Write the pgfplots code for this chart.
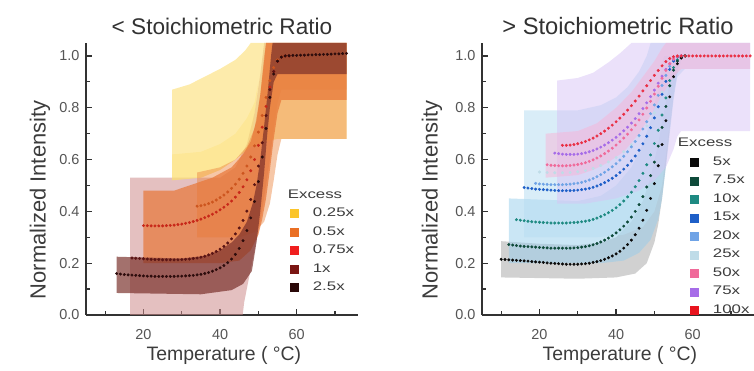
\documentclass[border=0pt]{standalone}
\usepackage{fontspec}
\setmainfont{Liberation Sans}
\usepackage{pgfplots}
\pgfplotsset{compat=1.18}
\definecolor{axcol}{RGB}{50,50,50}
\definecolor{tickcol}{RGB}{85,85,85}
\definecolor{labcol}{RGB}{60,60,60}
% left series
\definecolor{cA}{RGB}{251,197,43}
\definecolor{cB}{RGB}{234,111,36}
\definecolor{cC}{RGB}{240,31,31}
\definecolor{cD}{RGB}{122,21,18}
\definecolor{cE}{RGB}{42,8,8}
\definecolor{dB}{RGB}{205,85,30}
\definecolor{dC}{RGB}{200,40,25}
\definecolor{dD}{RGB}{90,20,20}
\definecolor{dE}{RGB}{45,12,12}
\definecolor{bPink}{RGB}{205,140,140}
\definecolor{bYel}{RGB}{252,222,115}
\definecolor{bOr}{RGB}{235,130,60}
\definecolor{bOr2}{RGB}{232,118,55}
\definecolor{bDark}{RGB}{120,45,40}
% right series
\definecolor{r1}{RGB}{10,10,10}
\definecolor{r2}{RGB}{14,74,58}
\definecolor{r3}{RGB}{30,138,130}
\definecolor{r4}{RGB}{30,95,200}
\definecolor{r5}{RGB}{111,163,230}
\definecolor{r6}{RGB}{191,220,232}
\definecolor{r7}{RGB}{240,106,154}
\definecolor{r8}{RGB}{166,108,232}
\definecolor{r9}{RGB}{232,20,30}
\definecolor{bGray}{RGB}{190,190,190}
\definecolor{bBlue1}{RGB}{150,205,235}
\definecolor{bBlue2}{RGB}{185,222,242}
\definecolor{bLav}{RGB}{215,195,245}
\definecolor{bPk}{RGB}{248,180,215}
\newcommand{\lt}[1]{\scalebox{1.35}[1]{#1}}
\pgfplotsset{
  base/.style={
    scale only axis, width=272bp, height=272bp,
    xmin=5, xmax=76, ymin=0, ymax=1.05,
    axis x line*=bottom, axis y line*=left,
    axis line style={line width=1.3bp, color=axcol, -},
    xtick={20,40,60}, minor xtick={10,30,50,70},
    ytick={0,0.2,0.4,0.6,0.8,1.0}, minor ytick={0.1,0.3,0.5,0.7,0.9},
    tick align=inside, major tick length=6bp, minor tick length=4bp,
    tick style={line width=1.2bp, color=axcol},
    /pgf/number format/assume math mode=true,
    tick label style={font=\fontsize{14.5}{16}\selectfont, text=tickcol},
    xticklabel style={yshift=-11bp},
    yticklabel style={xshift=-3bp, /pgf/number format/.cd, fixed, fixed zerofill, precision=1},
    title style={at={(axis description cs:0.5,1)}, anchor=base, yshift=3bp, text=axcol},
    xlabel={Temperature ( °C)},
    xlabel style={at={(axis description cs:0.507,-0.148)}, anchor=center, font=\fontsize{19.5}{22}\selectfont, text=labcol},
    ylabel={Normalized Intensity},
    ylabel style={anchor=center, font=\fontsize{22}{26}\selectfont, text=labcol},
    legend cell align=left,
    legend style={draw=none, fill=none, inner sep=0bp, outer sep=0bp, anchor=north west,
      font=\fontsize{12.5}{15}\selectfont, text=labcol, row sep=2bp, column sep=13bp,
      nodes={inner sep=1.5bp, text height=10bp, text depth=3.5bp}},
  },
  dots/.style={only marks, mark=*, mark size=1.3bp, forget plot},
  band/.style={draw=none, forget plot},
}
\begin{document}
\begin{tikzpicture}
\path[use as bounding box] (0,0) rectangle (754bp,371bp);
% ---------------- LEFT ----------------
\begin{axis}[base, at={(86bp,56bp)}, anchor=south west,
  title={< Stoichiometric Ratio},
  title style={font=\fontsize{22.7}{26}\selectfont},
  ylabel style={at={(axis description cs:-0.169,0.423)}},
  legend style={at={(axis description cs:0.75,0.471)}}]
% bands
\addplot[band, fill=bPink, fill opacity=0.55] coordinates {(16.5,-0.05)(16.5,0.53)(40,0.53)(44,0.57)(47,0.66)(49,0.78)(50.5,0.93)(51.5,1.05)(73,1.05)(73,0.87)(56,0.87)(55,0.82)(54,0.72)(53,0.6)(52,0.5)(50.5,0.36)(49,0.25)(47.5,0.14)(46.3,0.05)(45.5,-0.05)};
\addplot[band, fill=bYel, fill opacity=0.6] coordinates {(27.5,0.52)(27.5,0.87)(32,0.89)(36,0.92)(40,0.95)(44,0.985)(46.5,1.02)(48,1.05)(73,1.05)(73,0.68)(55,0.68)(52,0.67)(48,0.65)(44,0.6)(40,0.56)(35,0.53)};
\addplot[band, fill=bYel, fill opacity=0.35] coordinates {(27.5,0.52)(27.5,0.62)(35,0.63)(40,0.66)(44,0.7)(47,0.76)(49,0.82)(50,0.9)(48,0.65)(44,0.6)(40,0.56)(35,0.53)};
\addplot[band, fill=bOr, fill opacity=0.45] coordinates {(34,0.30)(34,0.55)(40,0.57)(44,0.6)(47,0.65)(49,0.72)(50.5,0.85)(51.5,1.0)(52,1.05)(73,1.05)(73,0.68)(56,0.68)(55,0.62)(54,0.52)(53,0.43)(51.5,0.36)(49,0.32)(45,0.3)};
\addplot[band, fill=bOr2, fill opacity=0.7] coordinates {(20,0.20)(20,0.48)(28,0.48)(32,0.50)(38,0.53)(43,0.57)(46,0.62)(48,0.67)(49.5,0.75)(50.5,0.85)(51.5,0.98)(52,1.05)(73,1.05)(73,0.83)(56,0.83)(55,0.78)(54,0.68)(53,0.56)(52,0.45)(51,0.37)(50,0.31)(48,0.25)(45,0.21)(40,0.2)(30,0.2)};
\addplot[band, fill=bDark, fill opacity=0.68] coordinates {(13,0.085)(13,0.225)(20,0.222)(30,0.218)(36,0.228)(40,0.25)(43,0.28)(45,0.31)(47,0.36)(48.5,0.43)(49.5,0.5)(50.5,0.6)(51.5,0.73)(52.5,0.87)(53.3,1.0)(53.7,1.05)(73,1.05)(73,0.93)(55,0.93)(54,0.9)(53,0.8)(52.2,0.68)(51.5,0.55)(50.5,0.4)(49.5,0.28)(48.3,0.17)(46,0.12)(43,0.096)(35,0.08)};
% dots
\addplot[dots, color=dB] coordinates {(34,.420)(35,.422)(36,.425)(37,.430)(38,.436)(39,.444)(40,.453)(41,.463)(42,.475)(43,.489)(44,.505)(45,.524)(46,.547)(47,.575)(48,.610)(49,.653)(50,.706)(51,.770)(52,.840)(53,.905)(54,.955)(55,.985)(56,.997)(57,1.0)};
\addplot[dots, color=dC] coordinates {(20,.345)(21,.345)(22,.344)(23,.344)(24,.344)(25,.344)(26,.345)(27,.346)(28,.347)(29,.349)(30,.351)(31,.354)(32,.357)(33,.361)(34,.365)(35,.370)(36,.376)(37,.382)(38,.389)(39,.397)(40,.406)(41,.416)(42,.427)(43,.440)(44,.455)(45,.473)(46,.495)(47,.522)(48,.557)(49,.600)(50,.655)(51,.725)(52,.805)(53,.880)(54,.940)(55,.978)(56,.995)(57,1.0)(58,1.0)};
\addplot[dots, color=dD] coordinates {(17,.220)(18,.219)(19,.218)(20,.217)(21,.216)(22,.215)(23,.214)(24,.214)(25,.213)(26,.213)(27,.213)(28,.213)(29,.213)(30,.214)(31,.215)(32,.216)(33,.218)(34,.220)(35,.223)(36,.227)(37,.232)(38,.238)(39,.245)(40,.254)(41,.265)(42,.278)(43,.294)(44,.313)(45,.336)(46,.365)(47,.401)(48,.446)(49,.503)(50,.575)(51,.665)(52,.770)(53,.870)(54,.940)(55,.980)(56,.995)(57,1.0)(58,1.0)};
\addplot[dots, color=dE] coordinates {(13,.160)(14,.158)(15,.156)(16,.155)(17,.154)(18,.153)(19,.152)(20,.151)(21,.150)(22,.150)(23,.149)(24,.149)(25,.149)(26,.149)(27,.149)(28,.149)(29,.150)(30,.150)(31,.151)(32,.152)(33,.153)(34,.155)(35,.157)(36,.160)(37,.164)(38,.169)(39,.175)(40,.182)(41,.191)(42,.202)(43,.216)(44,.234)(45,.257)(46,.287)(47,.326)(48,.375)(49,.438)(50,.515)(51,.610)(52,.720)(53,.840)(54,.930)(55,.980)(56,.996)(57,1.000)(58,1.001)(59,1.002)(60,1.002)(61,1.003)(62,1.003)(63,1.004)(64,1.004)(65,1.005)(66,1.005)(67,1.006)(68,1.006)(69,1.007)(70,1.008)(71,1.008)(72,1.009)(73,1.010)};
% legend
\addlegendimage{empty legend}\addlegendentry{\hspace*{-25bp}\lt{Excess}}
\addlegendimage{legend image code/.code={\fill[cA] (0bp,-4bp) rectangle (8bp,4bp);}}\addlegendentry{\lt{0.25x}}
\addlegendimage{legend image code/.code={\fill[cB] (0bp,-4bp) rectangle (8bp,4bp);}}\addlegendentry{\lt{0.5x}}
\addlegendimage{legend image code/.code={\fill[cC] (0bp,-4bp) rectangle (8bp,4bp);}}\addlegendentry{\lt{0.75x}}
\addlegendimage{legend image code/.code={\fill[cD] (0bp,-4bp) rectangle (8bp,4bp);}}\addlegendentry{\lt{1x}}
\addlegendimage{legend image code/.code={\fill[cE] (0bp,-4bp) rectangle (8bp,4bp);}}\addlegendentry{\lt{2.5x}}
\end{axis}
% ---------------- RIGHT ----------------
\begin{axis}[base, at={(482bp,56bp)}, anchor=south west,
  title={> Stoichiometric Ratio},
  title style={font=\fontsize{23.8}{27}\selectfont},
  ylabel style={at={(axis description cs:-0.184,0.423)}},
  legend style={at={(axis description cs:0.765,0.66)}}]
\addplot[band, fill=bGray, fill opacity=0.7] coordinates {(10,0.145)(10,0.285)(20,0.275)(30,0.27)(36,0.28)(40,0.30)(44,0.36)(47,0.44)(49,0.53)(51,0.66)(53,0.82)(55,0.97)(56,1.0)(57,1.0)(56,0.94)(55,0.85)(54,0.72)(53,0.58)(52,0.45)(51,0.35)(50,0.28)(48,0.2)(45,0.16)(40,0.145)(30,0.14)};
\addplot[band, fill=bBlue1, fill opacity=0.5] coordinates {(12,0.2)(12,0.45)(30,0.44)(36,0.46)(40,0.5)(44,0.57)(47,0.66)(49,0.75)(51,0.87)(52.5,1.0)(57,1.0)(57,0.98)(56,0.93)(55,0.83)(54,0.7)(53,0.57)(52,0.45)(51,0.37)(49,0.29)(46,0.24)(42,0.21)(36,0.2)};
\addplot[band, fill=bBlue2, fill opacity=0.55] coordinates {(16,0.3)(16,0.79)(30,0.79)(36,0.81)(40,0.84)(43,0.88)(46,0.94)(48,1.0)(49,1.05)(75,1.05)(75,0.95)(58,0.95)(56,0.92)(55,0.85)(54,0.74)(53,0.62)(52,0.5)(50,0.4)(47,0.34)(42,0.31)(35,0.3)};
\addplot[band, fill=bLav, fill opacity=0.5] coordinates {(24.6,0.43)(24.6,0.905)(30,0.915)(34,0.935)(38,0.975)(41,1.01)(44,1.05)(75,1.05)(75,0.71)(57,0.71)(56,0.69)(55,0.64)(53,0.57)(50,0.52)(46,0.48)(40,0.45)(32,0.43)};
\addplot[band, fill=bPk, fill opacity=0.5] coordinates {(21.6,0.53)(21.6,0.70)(30,0.71)(35,0.74)(40,0.8)(44,0.86)(47,0.92)(50,0.98)(52,1.03)(53,1.05)(75,1.05)(75,0.95)(57,0.95)(55,0.92)(52,0.85)(49,0.77)(46,0.7)(42,0.63)(38,0.59)(34,0.56)(30,0.54)};
% dots
\addplot[dots, color=r6] coordinates {(20,.552)(22,.550)(24,.549)(26,.549)(28,.550)(30,.553)(32,.558)(34,.566)(36,.577)(38,.591)(40,.608)(42,.630)(44,.657)(46,.690)(48,.730)(50,.780)(52,.860)(54,.945)(56,.993)(58,1.0)};
\addplot[dots, color=r5] coordinates {(19,.508)(20,.506)(21,.505)(22,.504)(23,.503)(24,.503)(25,.503)(26,.503)(27,.504)(28,.505)(29,.507)(30,.509)(31,.512)(32,.516)(33,.521)(34,.527)(35,.534)(36,.542)(37,.551)(38,.561)(39,.572)(40,.584)(41,.598)(42,.613)(43,.630)(44,.649)(45,.670)(46,.693)(47,.718)(48,.746)(49,.777)(50,.811)(51,.848)(52,.886)(53,.925)(54,.960)(55,.985)(56,.997)(57,1.0)};
\addplot[dots, color=r4] coordinates {(16,.492)(17,.490)(18,.488)(19,.486)(20,.485)(21,.484)(22,.483)(23,.482)(24,.481)(25,.480)(26,.480)(27,.480)(28,.480)(29,.481)(30,.482)(31,.484)(32,.486)(33,.489)(34,.493)(35,.498)(36,.504)(37,.511)(38,.519)(39,.528)(40,.538)(41,.550)(42,.563)(43,.578)(44,.595)(45,.614)(46,.636)(47,.661)(48,.690)(49,.723)(50,.761)(51,.804)(52,.852)(53,.902)(54,.948)(55,.980)(56,.995)(57,1.0)};
\addplot[dots, color=r3] coordinates {(14,.368)(15,.366)(16,.364)(17,.362)(18,.360)(19,.359)(20,.358)(21,.357)(22,.356)(23,.355)(24,.355)(25,.355)(26,.355)(27,.355)(28,.356)(29,.357)(30,.358)(31,.360)(32,.362)(33,.365)(34,.369)(35,.374)(36,.380)(37,.387)(38,.395)(39,.404)(40,.414)(41,.426)(42,.440)(43,.456)(44,.474)(45,.495)(46,.519)(47,.547)(48,.580)(49,.618)(50,.662)(51,.713)(52,.772)(53,.838)(54,.905)(55,.955)(56,.985)(57,.997)(58,1.0)};
\addplot[dots, color=r2] coordinates {(12,.272)(13,.270)(14,.268)(15,.266)(16,.265)(17,.264)(18,.263)(19,.262)(20,.261)(21,.260)(22,.259)(23,.258)(24,.258)(25,.258)(26,.258)(27,.258)(28,.258)(29,.259)(30,.260)(31,.262)(32,.264)(33,.267)(34,.271)(35,.276)(36,.282)(37,.289)(38,.297)(39,.306)(40,.317)(41,.329)(42,.343)(43,.359)(44,.378)(45,.400)(46,.426)(47,.457)(48,.494)(49,.538)(50,.590)(51,.652)(52,.724)(53,.805)(54,.885)(55,.945)(56,.980)(57,.995)(58,1.0)};
\addplot[dots, color=r1] coordinates {(10,.215)(11,.214)(12,.213)(13,.212)(14,.211)(15,.210)(16,.209)(17,.208)(18,.206)(19,.205)(20,.204)(21,.203)(22,.201)(23,.200)(24,.199)(25,.198)(26,.197)(27,.196)(28,.196)(29,.196)(30,.196)(31,.197)(32,.198)(33,.200)(34,.203)(35,.206)(36,.210)(37,.215)(38,.221)(39,.228)(40,.236)(41,.246)(42,.258)(43,.272)(44,.289)(45,.310)(46,.335)(47,.366)(48,.404)(49,.450)(50,.507)(51,.576)(52,.658)(53,.750)(54,.842)(55,.920)(56,.970)(57,.992)(58,1.0)};
\addplot[dots, color=r8] coordinates {(24,.625)(25,.623)(26,.621)(27,.620)(28,.620)(29,.620)(30,.621)(31,.623)(32,.626)(33,.630)(34,.635)(35,.641)(36,.648)(37,.656)(38,.665)(39,.675)(40,.686)(41,.698)(42,.711)(43,.725)(44,.741)(45,.758)(46,.777)(47,.797)(48,.819)(49,.843)(50,.868)(51,.895)(52,.922)(53,.948)(54,.970)(55,.987)(56,.997)(57,1.0)};
\addplot[dots, color=r7] coordinates {(22,.580)(23,.578)(24,.577)(25,.576)(26,.576)(27,.576)(28,.577)(29,.579)(30,.581)(31,.584)(32,.588)(33,.593)(34,.599)(35,.606)(36,.614)(37,.623)(38,.633)(39,.644)(40,.656)(41,.669)(42,.683)(43,.698)(44,.715)(45,.733)(46,.753)(47,.775)(48,.799)(49,.825)(50,.853)(51,.883)(52,.914)(53,.944)(54,.970)(55,.988)(56,.997)(57,1.0)};
\addplot[dots, color=r9!70!r7] coordinates {(26,.655)(27,.655)(28,.656)(29,.658)(30,.661)(31,.665)(32,.670)(33,.676)(34,.683)(35,.691)(36,.700)(37,.710)(38,.721)(39,.733)(40,.746)(41,.760)(42,.775)(43,.791)(44,.808)(45,.826)(46,.845)(47,.865)(48,.885)(49,.905)(50,.925)(51,.944)(52,.962)(53,.978)(54,.990)(55,.997)(56,1.0)(57,1.0)(58,1.0)(59,1.0)(60,1.0)(61,1.0)(62,1.0)(63,1.0)(64,1.0)(65,1.0)(66,1.0)(67,1.0)(68,1.0)(69,1.0)(70,1.0)(71,1.0)(72,1.0)(73,1.0)(74,1.0)(75,1.0)};
% legend
\addlegendimage{empty legend}\addlegendentry{\hspace*{-35bp}\lt{Excess}}
\addlegendimage{legend image code/.code={\fill[r1] (0bp,-4bp) rectangle (8bp,4bp);}}\addlegendentry{\lt{5x}}
\addlegendimage{legend image code/.code={\fill[r2] (0bp,-4bp) rectangle (8bp,4bp);}}\addlegendentry{\lt{7.5x}}
\addlegendimage{legend image code/.code={\fill[r3] (0bp,-4bp) rectangle (8bp,4bp);}}\addlegendentry{\lt{10x}}
\addlegendimage{legend image code/.code={\fill[r4] (0bp,-4bp) rectangle (8bp,4bp);}}\addlegendentry{\lt{15x}}
\addlegendimage{legend image code/.code={\fill[r5] (0bp,-4bp) rectangle (8bp,4bp);}}\addlegendentry{\lt{20x}}
\addlegendimage{legend image code/.code={\fill[r6] (0bp,-4bp) rectangle (8bp,4bp);}}\addlegendentry{\lt{25x}}
\addlegendimage{legend image code/.code={\fill[r7] (0bp,-4bp) rectangle (8bp,4bp);}}\addlegendentry{\lt{50x}}
\addlegendimage{legend image code/.code={\fill[r8] (0bp,-4bp) rectangle (8bp,4bp);}}\addlegendentry{\lt{75x}}
\addlegendimage{legend image code/.code={\fill[r9] (0bp,-4bp) rectangle (8bp,4bp);}}\addlegendentry{\lt{100x}}
\end{axis}
\end{tikzpicture}
\end{document}
